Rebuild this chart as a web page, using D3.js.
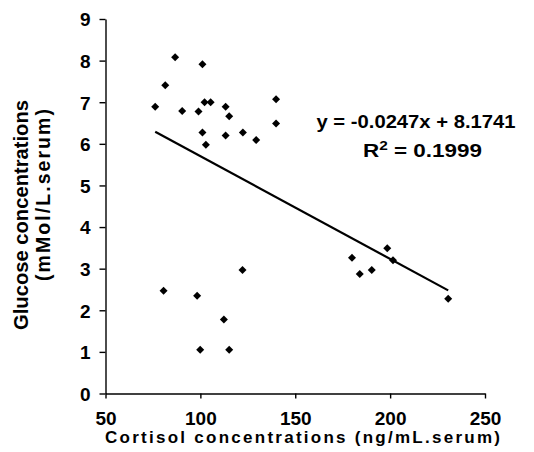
<!DOCTYPE html>
<html>
<head>
<meta charset="utf-8">
<script src="https://cdn.jsdelivr.net/npm/d3@7/dist/d3.min.js"></script>
<style>
html,body{margin:0;padding:0;background:#fff;}
svg{display:block;}
text{font-family:"Liberation Sans",Arial,sans-serif;fill:#000;}
</style>
</head>
<body>
<svg id="chart" width="534" height="452"></svg>
<script>
// Data
const cortisol = [76.2, 81.5, 86.7, 90.4, 99.0, 101.1, 102.2, 105.4, 101.1, 102.9, 113.3, 115.2, 113.3, 122.4, 129.4, 139.9, 139.9,
                  80.6, 98.3, 122.2, 112.4, 99.9, 115.2,
                  179.9, 184.0, 190.3, 198.5, 201.5, 230.6];
const glucose  = [6.89, 7.41, 8.08, 6.79, 6.78, 7.91, 7.0, 7.0, 6.27, 5.98, 6.89, 6.66, 6.20, 6.27, 6.09, 7.07, 6.49,
                  2.47, 2.35, 2.97, 1.78, 1.05, 1.05,
                  3.26, 2.87, 2.97, 3.49, 3.20, 2.28];
const xTicks = [50, 100, 150, 200, 250];
const yTicks = [0, 1, 2, 3, 4, 5, 6, 7, 8, 9];
const slope = -0.0247, intercept = 8.1741;
const eqText = "y = -0.0247x + 8.1741";
const r2Value = "0.1999";
const xTitle = "Cortisol concentrations (ng/mL.serum)";
const yTitle1 = "Glucose concentrations";
const yTitle2 = "(mMol/L.serum)";

const svg = d3.select("#chart");
const x = d3.scaleLinear().domain([50, 250]).range([105.5, 485]);
const y = d3.scaleLinear().domain([0, 9]).range([393.5, 19]);

// Axes
const xAxis = svg.append("g").attr("transform", `translate(0,${y(0)})`)
  .call(d3.axisBottom(x).tickValues(xTicks).tickSizeInner(5).tickSizeOuter(0).tickPadding(12));
const yAxis = svg.append("g").attr("transform", `translate(${x(50)},0)`)
  .call(d3.axisLeft(y).tickValues(yTicks).tickSizeInner(6).tickSizeOuter(0).tickPadding(9));
[xAxis, yAxis].forEach(a => {
  a.select(".domain").attr("stroke", "#000").attr("stroke-width", 1.4);
  a.selectAll(".tick line").attr("stroke", "#000").attr("stroke-width", 1.4);
  a.selectAll(".tick text").attr("font-family", "Liberation Sans, Arial, sans-serif")
    .attr("font-size", 19).attr("font-weight", "bold").attr("fill", "#000");
});
xAxis.selectAll(".tick text").attr("dy", null).attr("y", 0)
  .attr("transform", "translate(0,31.5)");
yAxis.selectAll(".tick text").attr("dy", "0.36em");

// Trendline
const xMin = d3.min(cortisol), xMax = d3.max(cortisol);
svg.append("line")
  .attr("x1", x(xMin)).attr("y1", y(slope * xMin + intercept))
  .attr("x2", x(xMax)).attr("y2", y(slope * xMax + intercept))
  .attr("stroke", "#000").attr("stroke-width", 2.2);

// Points (diamonds)
const diamond = r => `M0,${-r}L${r},0L0,${r}L${-r},0Z`;
svg.append("g").selectAll("path").data(cortisol.map((c, i) => [c, glucose[i]]))
  .join("path")
  .attr("d", diamond(4))
  .attr("transform", d => `translate(${x(d[0])},${y(d[1])})`)
  .attr("fill", "#000");

// Equation
svg.append("text").attr("x", 416).attr("y", 128).attr("text-anchor", "middle")
  .attr("font-size", 17.5).attr("font-weight", "bold")
  .attr("textLength", 199).attr("lengthAdjust", "spacingAndGlyphs")
  .text(eqText);
const r2 = svg.append("text").attr("x", 363).attr("y", 157)
  .attr("font-size", 17.5).attr("font-weight", "bold")
  .attr("textLength", 119).attr("lengthAdjust", "spacingAndGlyphs");
r2.append("tspan").text("R");
r2.append("tspan").attr("font-size", 12).attr("dy", -7).text("2");
r2.append("tspan").attr("dy", 7).text(" = " + r2Value);

// Axis titles
svg.append("text").attr("x", 302.5).attr("y", 443).attr("text-anchor", "middle")
  .attr("font-size", 17).attr("font-weight", "bold")
  .attr("textLength", 395).attr("lengthAdjust", "spacing")
  .text(xTitle);
svg.append("text").attr("transform", "translate(28,215) rotate(-90)").attr("text-anchor", "middle")
  .attr("font-size", 19.5).attr("font-weight", "bold")
  .attr("textLength", 230).attr("lengthAdjust", "spacingAndGlyphs")
  .text(yTitle1);
svg.append("text").attr("transform", "translate(50,195) rotate(-90)").attr("text-anchor", "middle")
  .attr("font-size", 19.5).attr("font-weight", "bold")
  .attr("textLength", 172).attr("lengthAdjust", "spacing")
  .text(yTitle2);
</script>
</body>
</html>
